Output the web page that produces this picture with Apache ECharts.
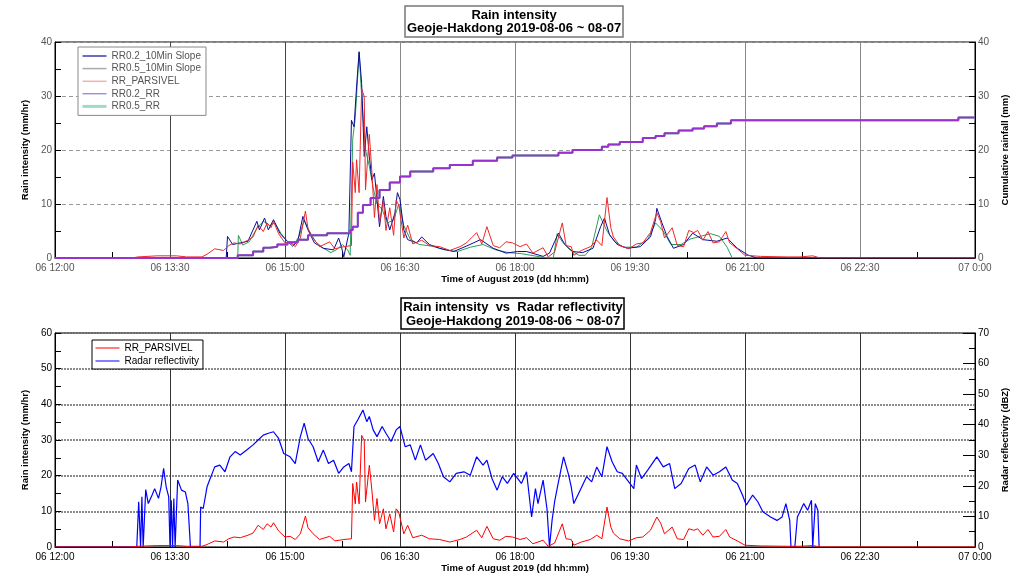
<!DOCTYPE html>
<html>
<head>
<meta charset="utf-8">
<script src="https://cdn.jsdelivr.net/npm/echarts@6/dist/echarts.min.js"></script>
<style>
html,body{margin:0;padding:0;background:#fff;}
#chart{width:1023px;height:580px;}
</style>
</head>
<body>
<div id="chart"></div>
<script>
// Time in minutes since 06 12:00
const tickLabels = ["06 12:00","06 13:30","06 15:00","06 16:30","06 18:00","06 19:30","06 21:00","06 22:30","07 0:00"];

// RR0.2_10Min Slope (mm/hr)
const slope02 = [[0,0],[134,0],[135,4.0],[139,2.5],[145,2.8],[151,3.1],[158,6.8],[160,5.2],[164,7.4],[167,5.2],[171,7.1],[176,4.6],[181,3.3],[186,2.2],[190,3.1],[194,7.7],[198,5.2],[203,2.8],[210,1.8],[218,1.5],[222,3.7],[224,2.2],[226,0.2],[230,4.6],[232,25.5],[234,24.3],[236,31.7],[238,38.2],[240,32.3],[242,18.8],[244,24.3],[246,18.8],[248,14.5],[250,15.7],[252,10.8],[254,5.8],[257,11.4],[259,7.7],[262,5.2],[266,8.3],[268,12.1],[270,10.8],[273,5.2],[276,3.4],[283,2.8],[287,3.9],[293,2.5],[301,1.8],[312,1.2],[322,2.2],[333,3.4],[343,1.8],[353,0.9],[362,1.2],[369,1.2],[382,0.3],[387,0.9],[394,4.6],[399,2.5],[405,1.2],[413,1.0],[421,1.8],[427,5.8],[430,7.4],[434,4.3],[440,2.5],[448,1.8],[458,2.1],[466,3.9],[470,7.1],[471,9.2],[475,6.5],[479,4.0],[484,1.8],[492,2.5],[499,4.6],[507,3.4],[518,3.1],[526,3.7],[534,1.8],[542,0.6],[549,0],[720,0]];

// RR0.5_10Min Slope (mm/hr)
const slope05 = [[0,0],[143,0],[143.5,4.2],[147,2.4],[152,3.0],[158,5.5],[163,6.8],[168,6.0],[172,6.5],[177,4.5],[182,3.0],[187,2.5],[191,4.0],[195,7.0],[199,5.0],[204,3.0],[210,1.8],[216,1.0],[220,1.5],[225,2.5],[229,1.5],[231,0.5],[233,22],[235,26],[238,38],[240,30],[243,20],[246,17],[249,13],[252,10],[256,9],[260,6.5],[265,7],[269,10],[273,6],[278,3.5],[285,2.5],[295,2.2],[305,1.5],[315,1.2],[325,2.0],[335,2.5],[345,1.5],[355,1.0],[365,0.8],[375,0.4],[385,0],[390,0],[393,4.5],[397,3.0],[403,1.5],[410,0.5],[415,0.5],[420,2.0],[426,8.0],[432,5.0],[438,3.0],[445,2.0],[455,2.0],[464,3.5],[470,6.5],[476,5.0],[482,2.5],[490,2.5],[497,3.5],[505,4.0],[513,4.5],[520,4.0],[526,2.0],[530,0]];

// RR_PARSIVEL (mm/hr)
const parsivel = [[0,0],[60,0],[65,0.2],[80,0.4],[95,0.4],[103,0.2],[115,0.2],[119,0.7],[125,1.7],[132,1.4],[136,2.3],[140,2.8],[145,2.6],[151,3.3],[155,3.9],[159,6.1],[163,4.9],[166,6.5],[169,5.6],[171,6.8],[175,4.5],[180,2.8],[184,3.0],[188,2.1],[192,3.7],[196,8.7],[198,5.4],[202,3.7],[207,2.1],[215,3.0],[219,1.7],[226,2.1],[232,2.3],[233,17.8],[235,12.1],[236,18.2],[238,12.1],[240,31.3],[242,29.9],[243,12.6],[246,22.9],[248,15.9],[250,7.5],[252,13.6],[254,6.5],[257,10.7],[259,5.1],[262,9.3],[265,4.2],[267,10.7],[269,9.8],[273,3.7],[276,6.1],[280,2.6],[287,3.3],[293,2.3],[301,2.1],[309,1.4],[317,2.1],[322,2.8],[330,4.7],[334,2.6],[338,5.8],[343,2.3],[348,1.9],[353,3.0],[358,2.8],[364,2.1],[369,2.6],[374,0.9],[382,1.9],[386,0.2],[391,1.1],[397,6.5],[400,2.3],[404,2.1],[406,0.5],[412,1.4],[419,2.1],[424,3.3],[428,2.3],[432,11.2],[435,5.6],[437,3.9],[442,2.3],[449,1.7],[455,2.6],[460,2.8],[466,4.7],[471,8.4],[474,6.7],[477,3.7],[483,5.6],[487,2.3],[492,2.1],[496,5.1],[500,4.7],[503,5.1],[507,3.3],[511,4.9],[515,2.8],[520,3.0],[525,4.9],[528,2.8],[534,1.7],[540,0.5],[552,0.3],[573,0.2],[583,0.2],[593,0.4],[599,0],[720,0]];

// RR0.2_RR cumulative rainfall (mm)
const cum02 = [[0,0],[143,0.5],[155,1.2],[163,1.9],[168,2.1],[174,2.5],[182,2.9],[190,3.4],[198,4.2],[213,4.6],[231,5.2],[233,5.8],[237,8.4],[241,9.8],[247,11.1],[254,12.6],[262,14.0],[270,15.1],[278,16.0],[296,16.6],[309,17.2],[327,18.0],[346,18.6],[358,19.0],[394,19.5],[405,20.0],[428,20.6],[433,21.0],[442,21.5],[460,22.2],[470,22.6],[477,23.1],[488,23.6],[499,24.0],[508,24.4],[518,24.9],[529,25.5],[707,26.0],[720,26.0]];
// RR0.5_RR cumulative rainfall (mm) - coincides with RR0.2_RR in the picture
const cum05 = [[0,0],[143,0.5],[155,1.2],[163,1.9],[168,2.1],[174,2.5],[182,2.9],[190,3.4],[198,4.2],[213,4.6],[231,5.2],[233,5.8],[237,8.4],[241,9.8],[247,11.1],[254,12.6],[262,14.0],[270,15.1],[278,16.0],[296,16.6],[309,17.2],[327,18.0],[346,18.6],[358,19.0],[394,19.5],[405,20.0],[428,20.6],[433,21.0],[442,21.5],[460,22.2],[470,22.6],[477,23.1],[488,23.6],[499,24.0],[508,24.4],[518,24.9],[529,25.5],[707,26.0],[720,26.0]];

// Radar reflectivity (dBZ)
const radar = [[0,0],[64,0],[65,0],[65.5,14.8],[67,0],[68,16.4],[69,0],[71,18.8],[73,14.2],[76,17.0],[78,19.1],[81,15.9],[83,19.7],[85,25.7],[87,19.7],[89,16.4],[90,0],[91,15.3],[92,0],[93,15.9],[94,0],[96,21.9],[99,18.6],[102,18.0],[104,14.2],[106,0],[113.5,0],[114,13.1],[116,12.6],[119,19.7],[121,21.9],[125,26.2],[129,26.8],[133,24.6],[137,29.5],[141,31.2],[145,30.1],[150,31.7],[155,33.4],[159,35.0],[163,36.6],[167,37.2],[171,37.7],[175,35.5],[179,30.6],[184,29.5],[188,27.3],[192,36.1],[195,40.5],[198,35.5],[202,32.8],[206,27.9],[210,31.7],[214,27.3],[218,28.4],[222,24.1],[226,26.2],[230,27.3],[232,24.6],[234,39.4],[237,41.6],[241,44.8],[244,41.0],[246,42.7],[249,38.3],[252,36.1],[256,39.4],[259,37.2],[263,34.5],[267,38.3],[270,39.4],[274,32.8],[278,33.4],[282,28.4],[286,33.4],[290,28.4],[296,30.6],[300,27.3],[304,23.0],[309,21.3],[314,24.1],[320,24.6],[325,23.5],[330,29.5],[335,26.8],[338,28.4],[342,22.4],[346,18.6],[350,23.0],[354,20.8],[359,24.1],[365,20.8],[369,24.6],[373,9.8],[376,19.1],[378,14.2],[382,21.9],[385,12.6],[387,0],[389,8.7],[391,14.8],[394,21.3],[398,29.5],[402,23.5],[404,19.7],[406,14.2],[411,18.6],[416,23.0],[420,21.3],[424,26.2],[428,23.0],[432,32.8],[436,27.9],[440,24.6],[444,24.1],[449,21.3],[453,19.1],[455,26.8],[459,22.4],[464,25.2],[471,29.5],[476,26.2],[481,27.3],[485,19.1],[490,20.8],[496,25.7],[501,26.8],[505,21.3],[510,26.2],[515,23.5],[520,24.6],[525,26.2],[530,21.9],[534,20.8],[538,17.0],[541,13.7],[546,17.0],[550,14.8],[554,11.5],[560,9.8],[565,8.7],[569,9.8],[572,14.2],[575,8.7],[576,0],[579,0],[581,9.8],[586,14.2],[589,12.0],[592,15.3],[593,0],[595,14.2],[597,12.0],[598,0]];

const FONT = '"Liberation Sans", Arial, sans-serif';

function xAxisCfg(gi, labelColor, splitColors) {
  return {
    type: 'value', gridIndex: gi, min: 0, max: 720, interval: 90,
    name: 'Time of August 2019 (dd hh:mm)', nameLocation: 'middle', nameGap: 16,
    nameTextStyle: {fontFamily: FONT, fontWeight: 'bold', fontSize: 9.5, color: '#000'},
    axisLine: {show: true, onZero: false, lineStyle: {color: '#000', width: 1}},
    axisTick: {show: false, inside: true},
    minorTick: {show: true, splitNumber: 2, length: 6, lineStyle: {color: '#000', width: 1}},
    axisLabel: {formatter: v => tickLabels[Math.round(v / 90)], color: labelColor, fontSize: 10, fontFamily: FONT, margin: 5},
    splitLine: {show: true, lineStyle: {color: splitColors, width: 1}},
    minorSplitLine: {show: false}
  };
}
function yAxisCfg(gi, pos, max, name, labelColor, split, majorLen, nameGap) {
  return {
    type: 'value', gridIndex: gi, position: pos, min: 0, max: max, interval: 10,
    name: name, nameLocation: 'middle', nameGap: nameGap,
    nameTextStyle: {fontFamily: FONT, fontWeight: 'bold', fontSize: 9.5, color: '#000'},
    axisLine: {show: true, lineStyle: {color: '#000', width: 1}},
    axisTick: {show: true, inside: true, length: majorLen, lineStyle: {color: '#000'}},
    minorTick: {show: true, splitNumber: 2, length: 6, lineStyle: {color: '#000'}},
    axisLabel: {color: labelColor, fontSize: 10, fontFamily: FONT, margin: 3},
    splitLine: split ? {show: true, lineStyle: split} : {show: false},
    minorSplitLine: {show: false}
  };
}

const chart = echarts.init(document.getElementById('chart'), null, {renderer: 'canvas'});
const option = {
  animation: false,
  backgroundColor: '#fff',
  textStyle: {fontFamily: FONT},
  grid: [
    {left: 55, right: 48, top: 42, height: 216, show: true, borderColor: '#000', borderWidth: 1, backgroundColor: 'transparent'},
    {left: 55, right: 48, top: 333, height: 214, show: true, borderColor: '#000', borderWidth: 1, backgroundColor: 'transparent'}
  ],
  xAxis: [
    xAxisCfg(0, '#555', ['#444', '#444', '#444', '#888', '#888', '#888', '#888', '#888', '#444']),
    xAxisCfg(1, '#000', ['#333'])
  ],
  yAxis: [
    yAxisCfg(0, 'left', 40, 'Rain intensity (mm/hr)', '#555', {color: '#999', type: [4, 3], width: 1}, 6, 17),
    yAxisCfg(0, 'right', 40, 'Cumulative rainfall (mm)', '#555', null, 6, 15),
    yAxisCfg(1, 'left', 60, 'Rain intensity (mm/hr)', '#000', {color: '#666', type: [2, 1], width: 1.5}, 6, 17),
    yAxisCfg(1, 'right', 70, 'Radar reflectivity (dBZ)', '#000', null, 12, 15)
  ],
  legend: [
    {
      orient: 'vertical', left: 78, top: 47,
      data: [
        {name: 'RR0.2_10Min Slope', lineStyle: {color: '#0b0b9a', width: 1.2}},
        {name: 'RR0.5_10Min Slope', lineStyle: {color: '#aaaaaa', width: 1.5}},
        {name: 'RR_PARSIVEL', lineStyle: {color: '#e89080', width: 1}},
        {name: 'RR0.2_RR', lineStyle: {color: '#7a60c0', width: 1}},
        {name: 'RR0.5_RR', lineStyle: {color: '#a0dcc0', width: 3}}
      ],
      itemStyle: {opacity: 0},
      backgroundColor: '#fff', borderColor: '#888', borderWidth: 1, padding: [3, 5, 3, 3],
      itemWidth: 24, itemHeight: 12, itemGap: 0.6, itemTextGap: 5,
      textStyle: {fontSize: 10, color: '#555', fontFamily: FONT, lineHeight: 12},
      selectedMode: false
    },
    {
      orient: 'vertical', left: 92, top: 340,
      data: [
        {name: 'RR_PARSIVEL', lineStyle: {color: '#ff0000', width: 1}},
        {name: 'Radar reflectivity', lineStyle: {color: '#0000ff', width: 1}}
      ],
      itemStyle: {opacity: 0},
      backgroundColor: '#fff', borderColor: '#000', borderWidth: 1, padding: [2, 4, 2, 3],
      itemWidth: 24, itemHeight: 12, itemGap: 1, itemTextGap: 6,
      textStyle: {fontSize: 10, color: '#000', fontFamily: FONT, lineHeight: 12},
      selectedMode: false
    }
  ],
  graphic: [
    {type: 'rect', shape: {x: 405, y: 6, width: 218, height: 31}, style: {fill: '#fff', stroke: '#777', lineWidth: 1.5}},
    {type: 'text', x: 514, y: 21.5, style: {text: 'Rain intensity\nGeoje-Hakdong 2019-08-06 ~ 08-07', fontFamily: FONT, fontWeight: 'bold', fontSize: 13, fill: '#000', align: 'center', verticalAlign: 'middle', lineHeight: 13}},
    {type: 'rect', shape: {x: 401, y: 298, width: 223, height: 31}, style: {fill: '#fff', stroke: '#000', lineWidth: 1.5}},
    {type: 'text', x: 513, y: 314, style: {text: 'Rain intensity  vs  Radar reflectivity\nGeoje-Hakdong 2019-08-06 ~ 08-07', fontFamily: FONT, fontWeight: 'bold', fontSize: 13, fill: '#000', align: 'center', verticalAlign: 'middle', lineHeight: 14}}
  ],
  series: [
    {name: 'RR0.5_10Min Slope', type: 'line', xAxisIndex: 0, yAxisIndex: 0, data: slope05, symbol: 'none', lineStyle: {color: '#2a9d5c', width: 1}, itemStyle: {color: '#2a9d5c'}, z: 2},
    {name: 'RR0.2_10Min Slope', type: 'line', xAxisIndex: 0, yAxisIndex: 0, data: slope02, symbol: 'none', lineStyle: {color: '#0b0b9a', width: 1}, itemStyle: {color: '#0b0b9a'}, z: 3},
    {name: 'RR_PARSIVEL', type: 'line', xAxisIndex: 0, yAxisIndex: 0, data: parsivel, symbol: 'none', lineStyle: {color: '#f02828', width: 1}, itemStyle: {color: '#f02828'}, z: 4},
    {name: 'RR0.5_RR', type: 'line', xAxisIndex: 0, yAxisIndex: 1, data: cum05, step: 'end', symbol: 'none', lineStyle: {color: '#44cc77', width: 2}, itemStyle: {color: '#44cc77'}, z: 5},
    {name: 'RR0.2_RR', type: 'line', xAxisIndex: 0, yAxisIndex: 1, data: cum02, step: 'end', symbol: 'none', lineStyle: {color: '#9b30d0', width: 2}, itemStyle: {color: '#9b30d0'}, z: 6},
    {name: 'Radar reflectivity', type: 'line', xAxisIndex: 1, yAxisIndex: 3, data: radar, symbol: 'none', lineStyle: {color: '#0000ff', width: 1.2}, itemStyle: {color: '#0000ff'}, z: 3},
    {name: 'RR_PARSIVEL', type: 'line', xAxisIndex: 1, yAxisIndex: 2, data: parsivel, symbol: 'none', lineStyle: {color: '#ff0000', width: 1}, itemStyle: {color: '#ff0000'}, z: 4}
  ]
};
chart.setOption(option);
</script>
</body>
</html>
